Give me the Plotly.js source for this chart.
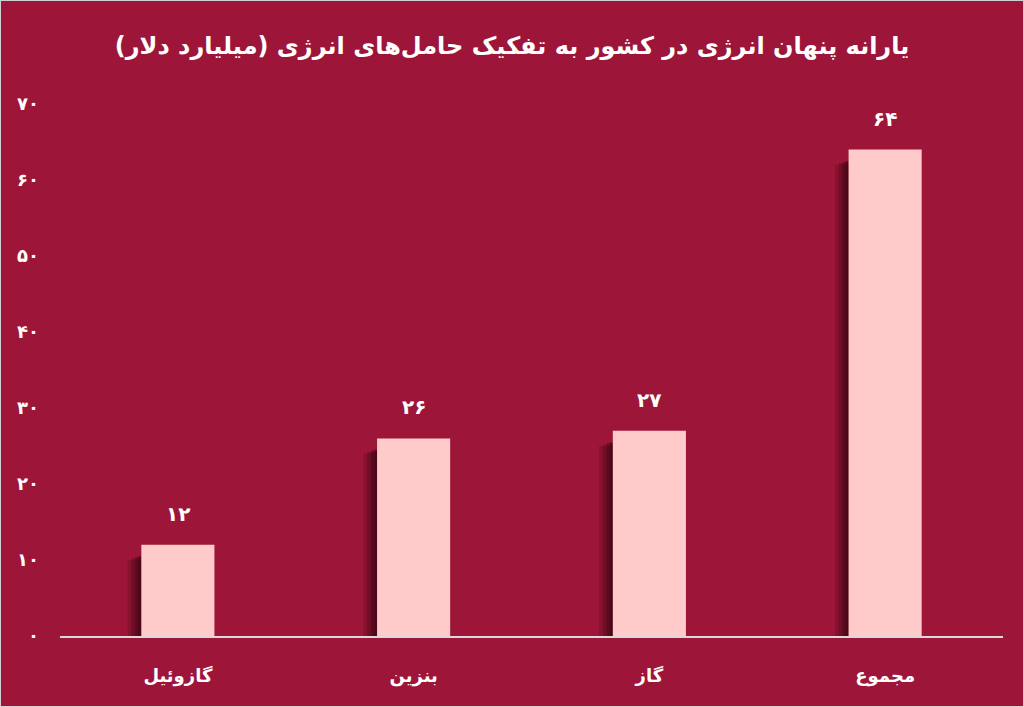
<!DOCTYPE html>
<html>
<head>
<meta charset="utf-8">
<script src="https://cdn.plot.ly/plotly-3.0.1.min.js"></script>
<style>
html,body{margin:0;padding:0;background:#9D1639;}
#chart{width:1024px;height:707px;}
</style>
</head>
<body>
<div id="chart"></div>
<script>
var categories = ['گازوئیل', 'بنزین', 'گاز', 'مجموع'];
var values = [12, 26, 27, 64];
var valueLabels = ['۱۲', '۲۶', '۲۷', '۶۴'];
var tickValues = [0, 10, 20, 30, 40, 50, 60, 70];
var tickLabels = ['۰', '۱۰', '۲۰', '۳۰', '۴۰', '۵۰', '۶۰', '۷۰'];
var titleText = 'یارانه پنهان انرژی در کشور به تفکیک حامل‌های انرژی (میلیارد دلار)';

var BG = '#9D1639';
var FONT = 'DejaVu Sans';
var barWidth = 0.31;

var traces = [];
// soft shadow layers on the left of each bar
var shadowLayers = [
  {w: 0.058, op: 0.22, drop: 2.0},
  {w: 0.042, op: 0.32, drop: 1.8},
  {w: 0.026, op: 0.42, drop: 1.6},
  {w: 0.012, op: 0.5, drop: 1.5}
];
shadowLayers.forEach(function(s){
  traces.push({
    type: 'bar',
    x: categories,
    y: values.map(function(v){ return v - s.drop; }),
    width: s.w,
    offset: -barWidth/2 - s.w,
    marker: {color: '#3d0513', line: {width: 0}},
    opacity: s.op,
    hoverinfo: 'skip',
    showlegend: false
  });
});
traces.push({
  type: 'bar',
  x: categories,
  y: values,
  width: barWidth,
  offset: -barWidth/2,
  marker: {color: '#FFCACA', line: {width: 0}},
  showlegend: false
});

var annotations = categories.map(function(c, i){
  return {
    x: c, y: values[i], xref: 'x', yref: 'y',
    text: valueLabels[i], showarrow: false,
    yshift: 31,
    font: {family: FONT, size: 20, color: '#ffffff', weight: 'bold'}
  };
});

var layout = {
  width: 1024, height: 707,
  paper_bgcolor: BG, plot_bgcolor: BG,
  margin: {l: 60, r: 21, t: 104, b: 71},
  barmode: 'overlay',
  title: {
    text: '<b>' + titleText + '</b>',
    x: 0.5, xanchor: 'center', y: 0.935, yanchor: 'middle',
    font: {family: FONT, size: 24, color: '#ffffff'}
  },
  xaxis: {
    type: 'category',
    tickfont: {family: FONT, size: 18, color: '#ffffff', weight: 'bold'},
    showgrid: false, zeroline: false,
    showline: true, linecolor: '#DADADA', linewidth: 2,
    ticks: '', ticklabelstandoff: 22
  },
  yaxis: {
    range: [0, 70],
    tickvals: tickValues, ticktext: tickLabels,
    tickfont: {family: FONT, size: 18, color: '#ffffff', weight: 'bold'},
    showgrid: false, zeroline: false, showline: false,
    ticks: '', ticklabelstandoff: 20
  },
  annotations: annotations,
  shapes: [{
    type: 'rect', xref: 'paper', yref: 'paper',
    x0: -60/943, x1: 1 + 21/943, y0: -71/532, y1: 1 + 104/532,
    line: {color: '#D0D0D0', width: 2}
  }]
};

Plotly.newPlot('chart', traces, layout, {displayModeBar: false, staticPlot: true});
</script>
</body>
</html>
